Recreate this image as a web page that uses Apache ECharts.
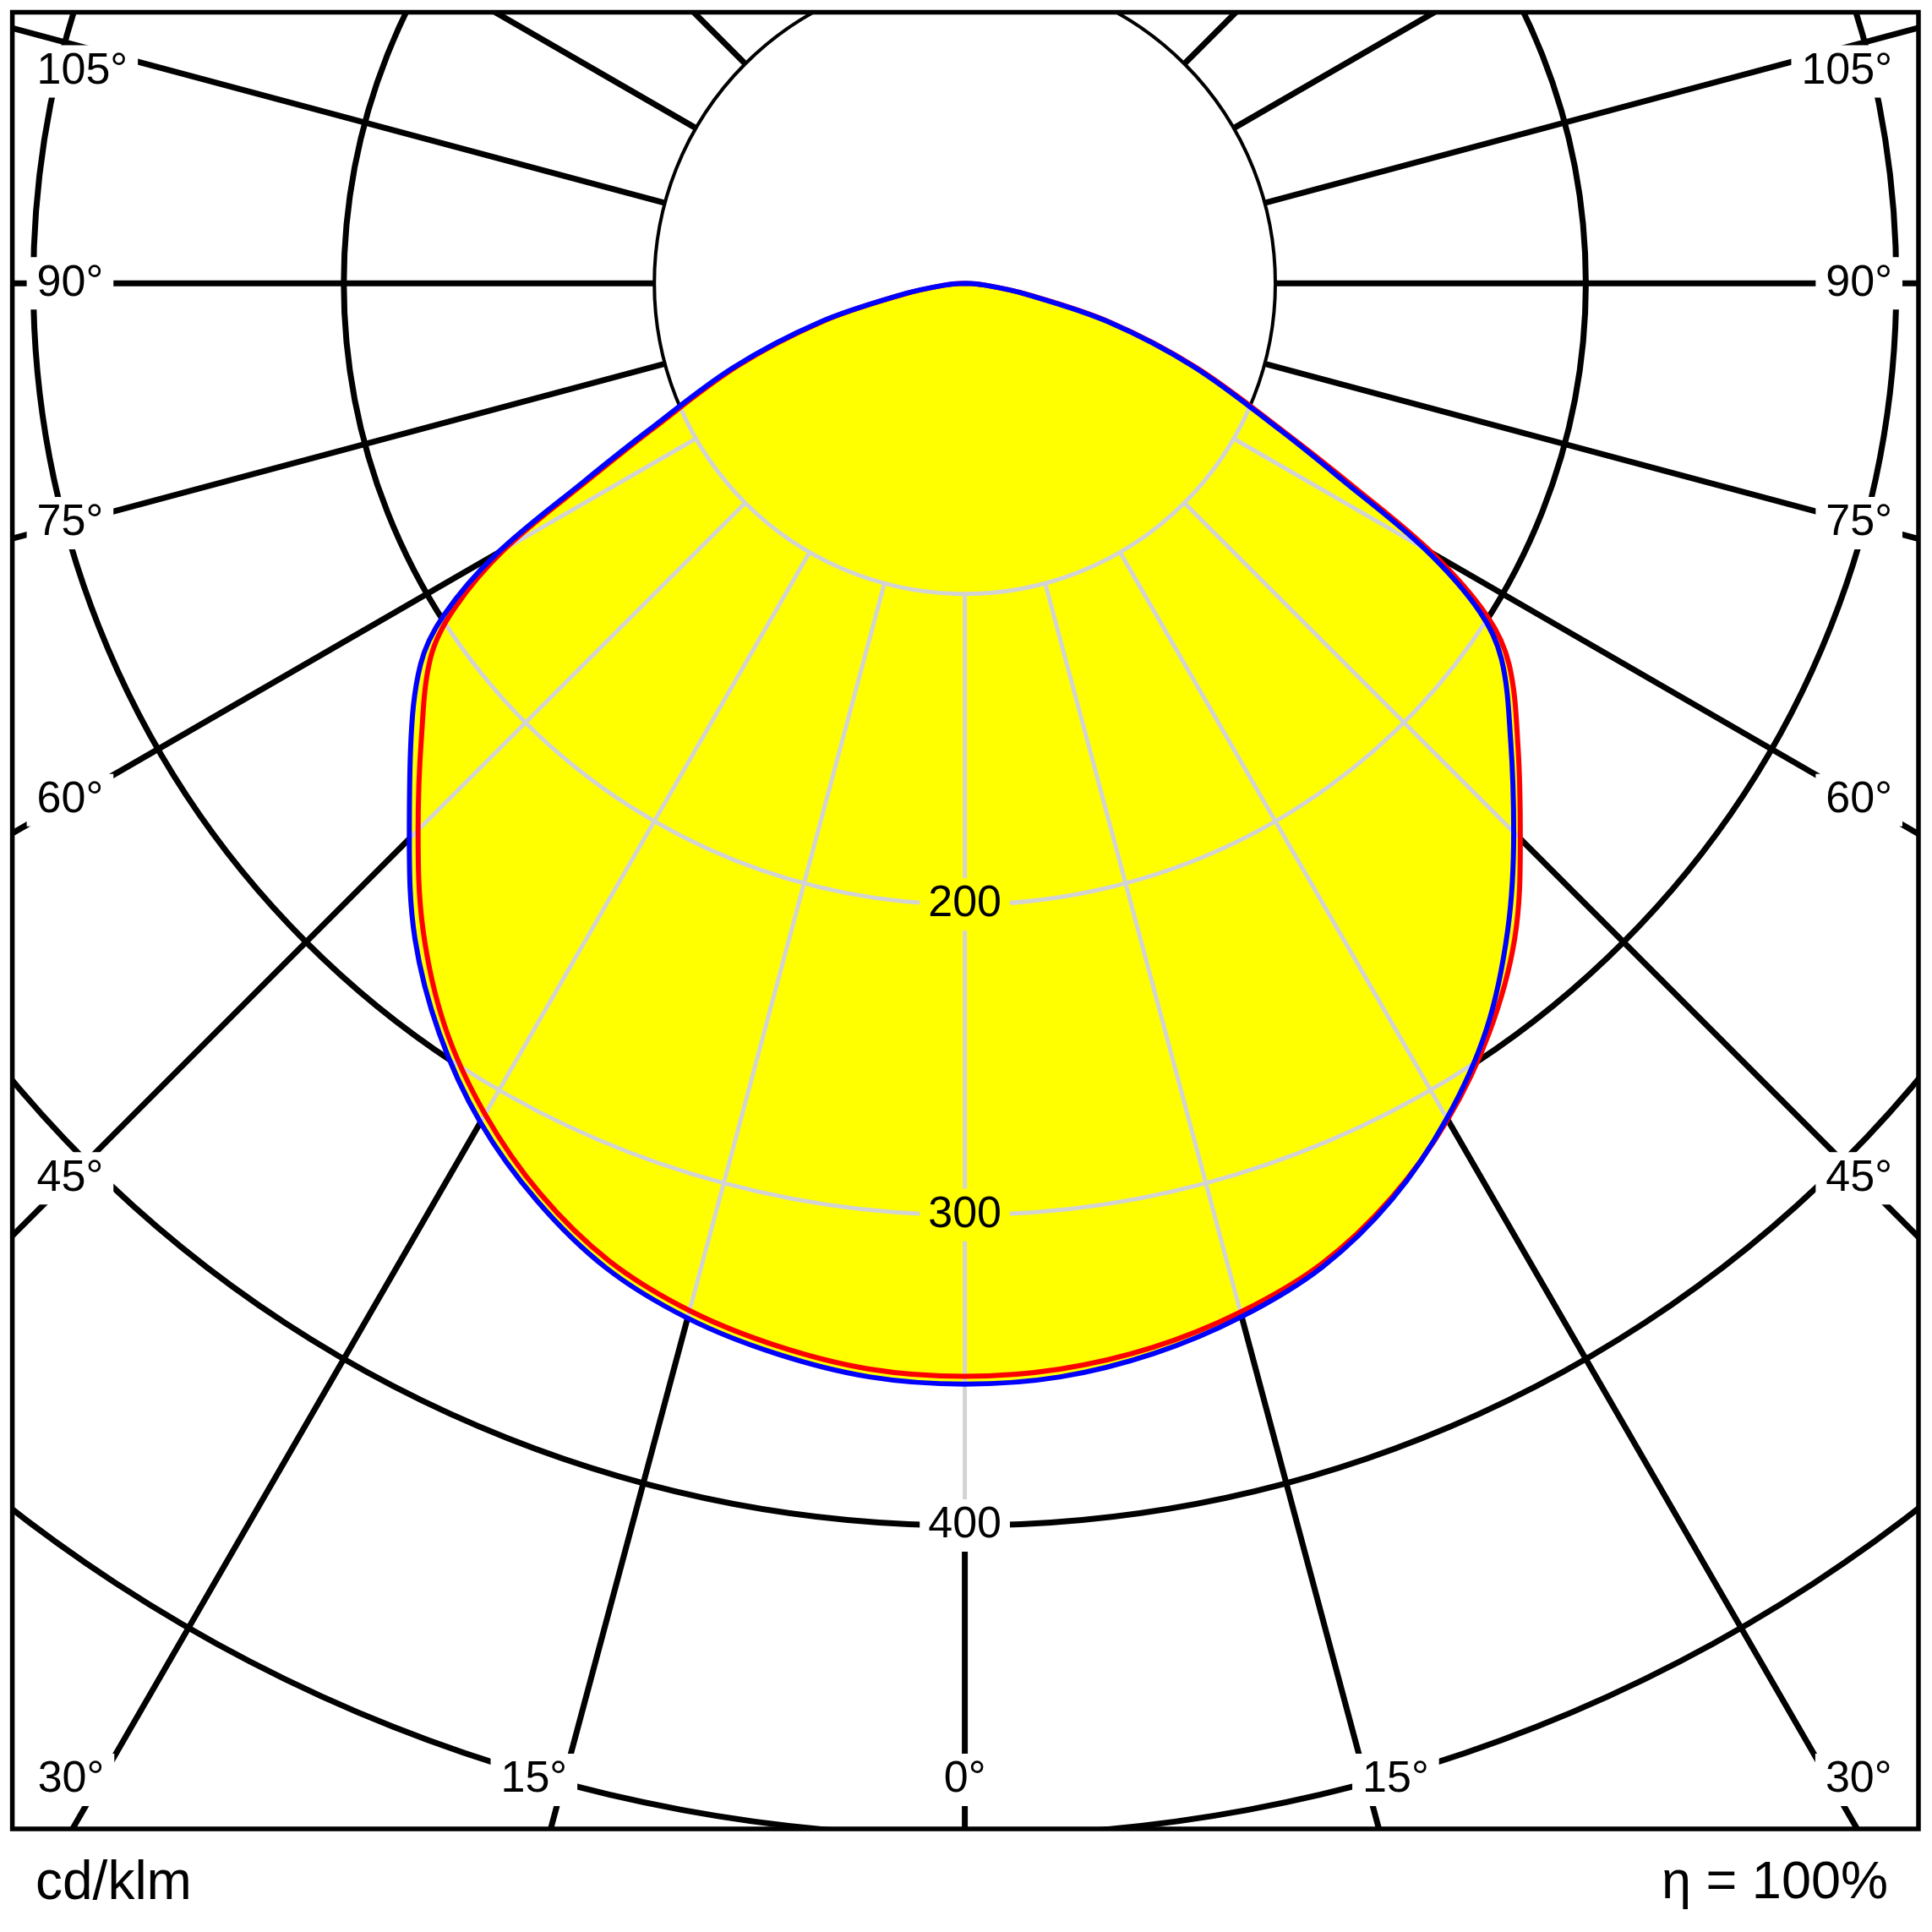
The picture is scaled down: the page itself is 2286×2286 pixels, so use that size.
<!DOCTYPE html>
<html><head><meta charset="utf-8">
<script src="https://cdn.jsdelivr.net/npm/echarts@6/dist/echarts.min.js"></script>
<style>html,body{margin:0;padding:0;background:#fff}#c{width:2286px;height:2286px}</style>
</head><body><div id="c"></div>
<script>
// ---------------- data (cd/klm) ----------------
const gammaDeg  = [0,5,10,15,20,25,30,35,40,45,50,55,57.5,60,62.5,65,70,75,80,85,90];
const redLeft   = [352,351,347.5,342.5,335,323.5,309,292,271.5,249,228.5,210,195,171,136,111,78,47.5,19.8,6.4,0];
const redRight  = [352,351,348,343,336,325,311,294.5,275.5,253,232.6,214,199.5,174,140,114,79.5,48.5,20.2,6.6,0];
const blueLeft  = [354.5,353.5,350,345,337.5,326,312,295,275.5,253,233,214,199,174,138.5,113,79.5,48.5,20.2,6.6,0];
const blueRight = [354.5,353.5,350,344.5,337,325.5,310.5,293,272,250,229.5,211,196.5,171,137,112.5,78.5,48,20,6.5,0];
const radiusTicks  = [100,200,300,400,500,600];
const radiusLabels = [200,300,400];
const sideAngleLabels   = [105,90,75,60,45];
const bottomAngleLabels = [-30,-15,0,15,30];
const unitText = 'cd/klm';
const effText  = 'η = 100%';

// ---------------- layout ----------------
const W = 2286, H = 2286;
const frame = {l: 14.6, t: 14.6, r: 2270, b: 2164};
const CX = 1141.6, CY = 335.3, PXU = 3.674, RMAX = 600;
const FONT = '"Liberation Sans", Arial, sans-serif';
const GRAY = '#d3d3d3';
const BLACK_W = 7, INNER_W = 4, GRAY_W = 5, CURVE_W = 6;
const TICK_FS = 52;

const chart = echarts.init(document.getElementById('c'));

function curveData(left, right) {
  const d = [];
  for (let i = gammaDeg.length - 1; i >= 0; i--) d.push([right[i], 360 - gammaDeg[i]]);
  for (let i = 1; i < gammaDeg.length; i++) d.push([left[i], gammaDeg[i]]);
  return d;
}
const envAt = (i, side) => side === 'L' ? Math.max(redLeft[i], blueLeft[i]) : Math.max(redRight[i], blueRight[i]);

function renderGray(params, api) {
  const C = api.coord([0, 0]);
  const ref = api.coord([100, 0]);
  const pxU = Math.hypot(ref[0] - C[0], ref[1] - C[1]) / 100;
  const ang = (g, side) => side === 'L' ? g : 360 - g;
  const children = [];
  const style = {stroke: GRAY, lineWidth: GRAY_W, fill: null};
  function cross(rs, side, R) {
    const pts = gammaDeg.map((g, i) => api.coord([rs[i], ang(g, side)]));
    const Rp = R * pxU;
    for (let i = 0; i < pts.length - 1; i++) {
      const d0 = Math.hypot(pts[i][0] - C[0], pts[i][1] - C[1]);
      const d1 = Math.hypot(pts[i + 1][0] - C[0], pts[i + 1][1] - C[1]);
      if (d0 >= Rp && d1 < Rp) {
        const ax = pts[i][0] - C[0], ay = pts[i][1] - C[1];
        const bx = pts[i + 1][0] - pts[i][0], by = pts[i + 1][1] - pts[i][1];
        const A = bx * bx + by * by, B = 2 * (ax * bx + ay * by), Cc = ax * ax + ay * ay - Rp * Rp;
        const t = (-B - Math.sqrt(Math.max(0, B * B - 4 * A * Cc))) / (2 * A);
        const qx = ax + t * bx, qy = ay + t * by;
        return Math.atan2(Math.abs(qx), qy);
      }
    }
    return null;
  }
  const maxEnv = Math.max(...redLeft, ...redRight, ...blueLeft, ...blueRight);
  radiusTicks.forEach(R => {
    if (R >= maxEnv) return;
    const gl = Math.max(cross(redLeft, 'L', R), cross(blueLeft, 'L', R));
    const gr = Math.max(cross(redRight, 'R', R), cross(blueRight, 'R', R));
    children.push({type: 'arc', shape: {cx: C[0], cy: C[1], r: R * pxU,
      startAngle: Math.PI / 2 - gr, endAngle: Math.PI / 2 + gl, clockwise: true}, style});
  });
  const axisEnd = Math.max(...radiusLabels);
  ['L', 'R'].forEach(side => {
    gammaDeg.forEach((g, i) => {
      if (g % 15 !== 0) return;
      if (g === 0 && side === 'R') return;
      const e = envAt(i, side);
      const rEnd = g === 0 ? Math.max(e, axisEnd) : e;
      if (rEnd <= 100) return;
      const p0 = api.coord([100, ang(g, side)]), p1 = api.coord([rEnd, ang(g, side)]);
      if (g === 0 && rEnd > e) {
        const pe = api.coord([e, 0]);
        children.push({type: 'line', shape: {x1: pe[0], y1: pe[1], x2: p1[0], y2: p1[1]},
          style: {stroke: '#fff', lineWidth: BLACK_W + 2}});
      }
      children.push({type: 'line', shape: {x1: p0[0], y1: p0[1], x2: p1[0], y2: p1[1]}, style});
    });
  });
  const env0 = envAt(0, 'L');
  radiusLabels.forEach(R => {
    const p = api.coord([R, 0]);
    children.push({type: 'text', x: p[0], y: p[1], z2: 10, style: {
      text: String(R), fill: '#000', font: TICK_FS + 'px ' + FONT, align: 'center', verticalAlign: 'middle',
      backgroundColor: env0 > R ? '#ffff00' : '#ffffff', padding: [6, 10, 4, 10]}});
  });
  return {type: 'group', children};
}

const axisOff = {axisLine: {show: false}, axisTick: {show: false}, axisLabel: {show: false}};
const T = 'rgba(0,0,0,0)';

// ---------------- frame, masks and labels (graphic) ----------------
const graphics = [];
const maskStyle = {fill: '#fff'};
graphics.push({type: 'rect', z: 100, shape: {x: 0, y: 0, width: W, height: frame.t}, style: maskStyle});
graphics.push({type: 'rect', z: 100, shape: {x: 0, y: frame.b, width: W, height: H - frame.b}, style: maskStyle});
graphics.push({type: 'rect', z: 100, shape: {x: 0, y: 0, width: frame.l, height: H}, style: maskStyle});
graphics.push({type: 'rect', z: 100, shape: {x: frame.r, y: 0, width: W - frame.r, height: H}, style: maskStyle});
graphics.push({type: 'rect', z: 101, shape: {x: frame.l, y: frame.t, width: frame.r - frame.l, height: frame.b - frame.t},
  style: {fill: null, stroke: '#000', lineWidth: 5.5}});

const rayYAtX = (g, x) => { const a = g * Math.PI / 180; return CY + (Math.abs(CX - x) / Math.sin(a)) * Math.cos(a); };
const rayXAtY = (g, y) => { const a = g * Math.PI / 180; return CX + Math.sign(g) * (y - CY) * Math.tan(Math.abs(a)); };
const lblStyle = (text, align) => ({text, fill: '#000', font: TICK_FS + 'px ' + FONT, align, verticalAlign: 'middle',
  backgroundColor: '#fff', padding: [6, 12, 4, 12]});
sideAngleLabels.forEach(g => {
  const y = Math.max(rayYAtX(g, frame.l + 68), frame.t + 70);
  graphics.push({type: 'text', z: 102, x: frame.l + 17, y, style: lblStyle(g + '°', 'left')});
  graphics.push({type: 'text', z: 102, x: frame.r - 19, y, style: lblStyle(g + '°', 'right')});
});
bottomAngleLabels.forEach(g => {
  const y = frame.b - 58;
  const rx = g === 0 ? CX : rayXAtY(g, y);
  const align = g < 0 ? 'right' : (g > 0 ? 'left' : 'center');
  const x = g < 0 ? rx + 16 : (g > 0 ? rx - 16 : rx);
  graphics.push({type: 'text', z: 102, x, y, style: lblStyle(Math.abs(g) + '°', align)});
});
graphics.push({type: 'text', z: 102, x: 42, y: 2229, style: {text: unitText, fill: '#000', font: '64px ' + FONT, align: 'left', verticalAlign: 'middle'}});
graphics.push({type: 'text', z: 102, x: 2234, y: 2229, style: {text: effText, fill: '#000', font: '63px ' + FONT, align: 'right', verticalAlign: 'middle'}});

chart.setOption({
  animation: false,
  backgroundColor: '#fff',
  polar: [
    {center: [CX, CY], radius: RMAX * PXU},
    {center: [CX, CY], radius: [100 * PXU, RMAX * PXU]}
  ],
  angleAxis: [
    Object.assign({polarIndex: 0, type: 'value', min: 0, max: 360, startAngle: 270, clockwise: true, splitLine: {show: false}}, axisOff),
    Object.assign({polarIndex: 1, type: 'value', min: 0, max: 360, interval: 15, startAngle: 270, clockwise: true,
      splitLine: {show: true, lineStyle: {color: '#000', width: BLACK_W}}}, axisOff)
  ],
  radiusAxis: [
    Object.assign({polarIndex: 0, type: 'value', min: 0, max: RMAX, interval: 100,
      splitLine: {show: true, lineStyle: {color: [T, '#000', T, T, T, T, T], width: INNER_W}}}, axisOff),
    Object.assign({polarIndex: 1, type: 'value', min: 100, max: RMAX, interval: 100,
      splitLine: {show: true, lineStyle: {color: [T, '#000', '#000', '#000', '#000', '#000'], width: BLACK_W}}}, axisOff)
  ],
  series: [
    {type: 'line', coordinateSystem: 'polar', polarIndex: 0, data: curveData(redLeft, redRight), symbol: 'none', smooth: 0.35,
      lineStyle: {opacity: 0}, areaStyle: {color: '#ffff00', opacity: 1}, z: 2, silent: true},
    {type: 'line', coordinateSystem: 'polar', polarIndex: 0, data: curveData(blueLeft, blueRight), symbol: 'none', smooth: 0.35,
      lineStyle: {opacity: 0}, areaStyle: {color: '#ffff00', opacity: 1}, z: 2, silent: true},
    {type: 'custom', coordinateSystem: 'polar', polarIndex: 0, data: [[0, 0]], renderItem: renderGray, z: 3, silent: true},
    {type: 'line', coordinateSystem: 'polar', polarIndex: 0, data: curveData(redLeft, redRight), symbol: 'none', smooth: 0.35,
      lineStyle: {color: '#ff0000', width: CURVE_W}, z: 4, silent: true},
    {type: 'line', coordinateSystem: 'polar', polarIndex: 0, data: curveData(blueLeft, blueRight), symbol: 'none', smooth: 0.35,
      lineStyle: {color: '#0000ff', width: CURVE_W}, z: 5, silent: true}
  ],
  graphic: graphics
});
</script></body></html>
